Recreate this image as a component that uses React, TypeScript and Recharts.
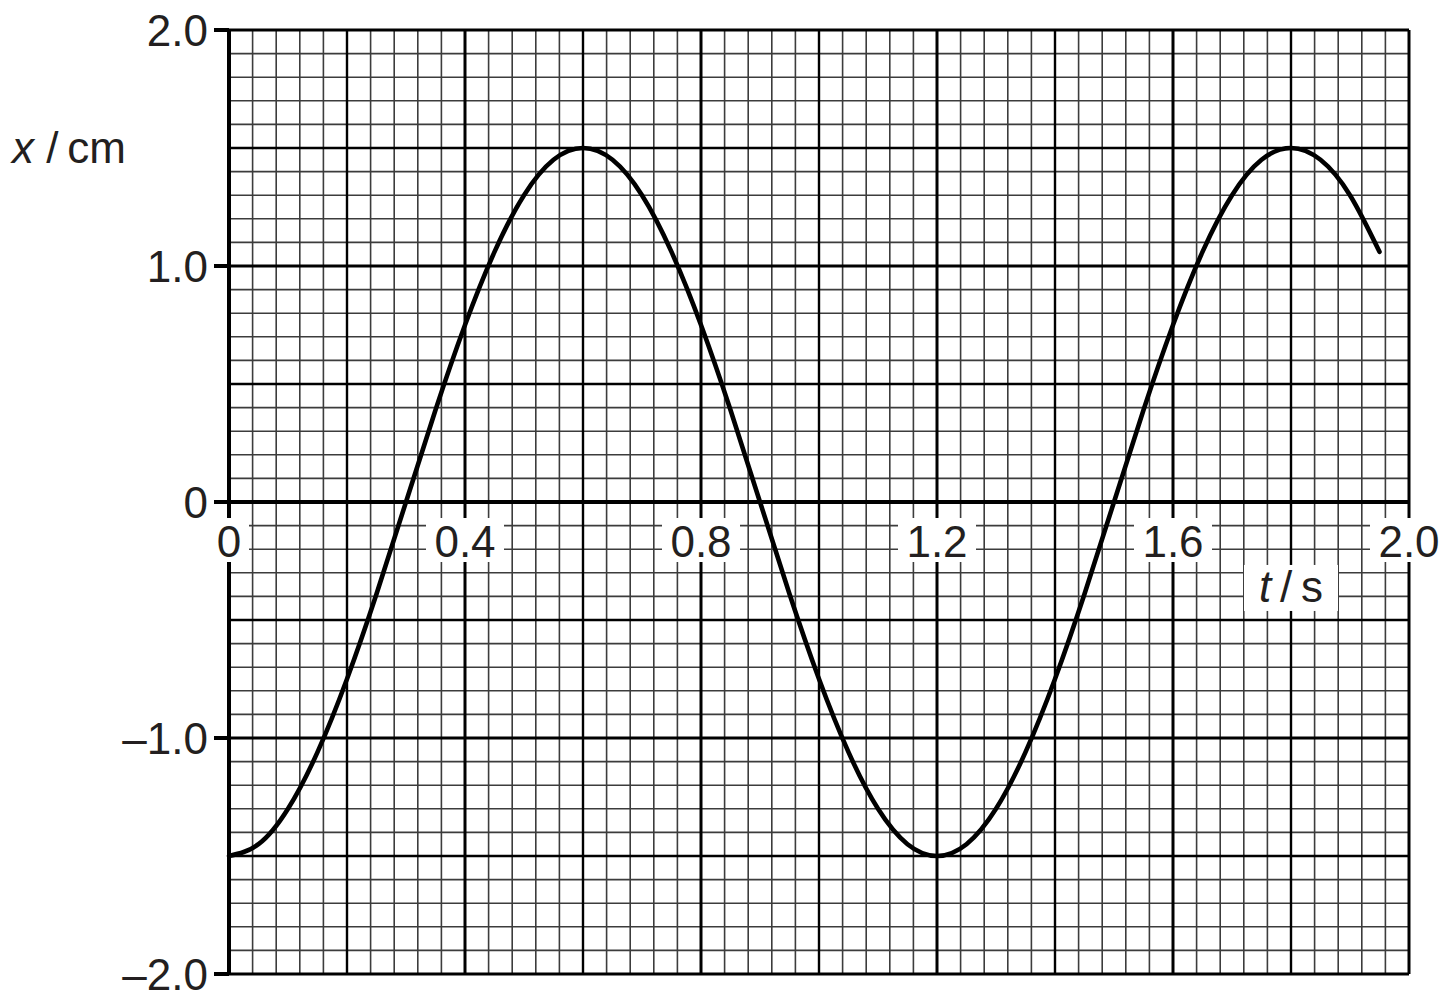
import React from "react";
import {
  LineChart,
  Line,
  XAxis,
  YAxis,
  ReferenceLine,
  ReferenceDot,
} from "recharts";

// curve, every 0.05 s
const times = [
  0, 0.05, 0.1, 0.15, 0.2, 0.25, 0.3, 0.35, 0.4, 0.45, 0.5, 0.55, 0.6, 0.65,
  0.7, 0.75, 0.8, 0.85, 0.9, 0.95, 1.0, 1.05, 1.1, 1.15, 1.2, 1.25, 1.3, 1.35,
  1.4, 1.45, 1.5, 1.55, 1.6, 1.65, 1.7, 1.75, 1.8, 1.85, 1.9, 1.95,
];
const displacement = [
  -1.5, -1.45, -1.3, -1.06, -0.75, -0.39, 0, 0.39, 0.75, 1.06, 1.3, 1.45, 1.5,
  1.45, 1.3, 1.06, 0.75, 0.39, 0, -0.39, -0.75, -1.06, -1.3, -1.45, -1.5,
  -1.45, -1.3, -1.06, -0.75, -0.39, 0, 0.39, 0.75, 1.06, 1.3, 1.45, 1.5, 1.45,
  1.3, 1.06,
];

const xTicks = [0, 0.4, 0.8, 1.2, 1.6, 2.0];
const xTickText = ["0", "0.4", "0.8", "1.2", "1.6", "2.0"];
const yTicks = [-2, -1, 0, 1, 2];
const yTickText = ["\u20132.0", "\u20131.0", "0", "1.0", "2.0"];

// graph paper rulings
const minorT = Array.from({ length: 51 }, (_, i) => +(i * 0.04).toFixed(2));
const mediumT = [0.2, 0.6, 1.0, 1.4, 1.8];
const majorT = [0, 0.4, 0.8, 1.2, 1.6, 2.0];
const minorX = Array.from({ length: 41 }, (_, i) => +(-2 + i * 0.1).toFixed(1));
const mediumX = [-1.5, -0.5, 0.5, 1.5];
const majorX = [-2, -1, 1, 2];

const data = times.map((t, i) => ({ t, x: displacement[i] }));

const FONT = "'Liberation Sans', Arial, Helvetica, sans-serif";
const INK = "#231f20";

function TickLabel({ cx, cy, text }: { cx: number; cy: number; text: string }) {
  const w = text.length === 1 ? 24 : 62;
  return (
    <g>
      <rect x={cx - w / 2 - 8} y={cy + 16} width={w + 16} height={44} fill="#fff" />
      <text
        x={cx}
        y={cy + 55}
        textAnchor="middle"
        fontFamily={FONT}
        fontSize={44}
        fill={INK}
      >
        {text}
      </text>
    </g>
  );
}

function TimeLabel({ cx, cy }: { cx: number; cy: number }) {
  return (
    <g>
      <rect x={cx - 47} y={cy - 22} width={94} height={46} fill="#fff" />
      <text
        x={cx}
        y={cy + 15}
        textAnchor="middle"
        fontFamily={FONT}
        fontSize={44}
        fill={INK}
      >
        <tspan fontStyle="italic">t</tspan>
        {"\u2009/\u2009s"}
      </text>
    </g>
  );
}

export default function App() {
  return (
    <div style={{ position: "relative", width: 1440, height: 1004, marginTop: -8 }}>
      <LineChart
        width={1440}
        height={1004}
        data={data}
        margin={{ top: 30, right: 39, bottom: 30, left: 0 }}
      >
        <XAxis dataKey="t" type="number" domain={[0, 2]} hide />
        <YAxis
          type="number"
          domain={[-2, 2]}
          ticks={yTicks}
          interval={0}
          width={221}
          tickSize={15}
          tickMargin={6}
          tickFormatter={(v: number) => yTickText[yTicks.indexOf(v)]}
          tick={{ fill: INK, fontSize: 44, fontFamily: FONT }}
          axisLine={{ stroke: "#000", strokeWidth: 4 }}
          tickLine={{ stroke: "#000", strokeWidth: 4 }}
        />

        {minorT.map((v) => (
          <ReferenceLine key={`mt${v}`} x={v} stroke="#3c3c3c" strokeWidth={1.6} />
        ))}
        {minorX.map((v) => (
          <ReferenceLine key={`mx${v}`} y={v} stroke="#3c3c3c" strokeWidth={1.6} />
        ))}
        {mediumT.map((v) => (
          <ReferenceLine key={`dt${v}`} x={v} stroke="#000" strokeWidth={2.4} />
        ))}
        {mediumX.map((v) => (
          <ReferenceLine key={`dx${v}`} y={v} stroke="#000" strokeWidth={2.4} />
        ))}
        {majorT.map((v) => (
          <ReferenceLine key={`jt${v}`} x={v} stroke="#000" strokeWidth={3} />
        ))}
        {majorX.map((v) => (
          <ReferenceLine key={`jx${v}`} y={v} stroke="#000" strokeWidth={3} />
        ))}
        <ReferenceLine y={0} stroke="#000" strokeWidth={4} />
        <ReferenceLine x={0} stroke="#000" strokeWidth={4} />

        {xTicks.map((v, i) => (
          <ReferenceDot
            key={`xl${v}`}
            x={v}
            y={0}
            r={0}
            ifOverflow="visible"
            zIndex={1600}
            shape={(p: any) => <TickLabel cx={p.cx} cy={p.cy} text={xTickText[i]} />}
          />
        ))}
        <ReferenceDot
          x={1.8}
          y={-0.36}
          r={0}
          ifOverflow="visible"
          zIndex={1600}
          shape={(p: any) => <TimeLabel cx={p.cx} cy={p.cy} />}
        />

        <Line
          dataKey="x"
          type="natural"
          stroke="#000"
          strokeWidth={4.6}
          strokeLinecap="round"
          dot={false}
          activeDot={false}
          isAnimationActive={false}
          zIndex={1500}
        />
      </LineChart>
      <div
        style={{
          position: "absolute",
          left: 4,
          top: 126,
          fontFamily: FONT,
          fontSize: 44,
          lineHeight: 1,
          color: INK,
          whiteSpace: "pre",
        }}
      >
        <span style={{ fontStyle: "italic" }}>x</span>
        {" /\u2009cm"}
      </div>
    </div>
  );
}
